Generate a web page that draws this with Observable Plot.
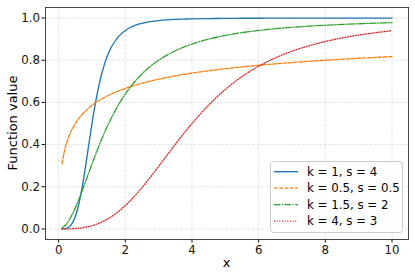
<!DOCTYPE html>
<html>
<head>
<meta charset="utf-8">
<script src="https://cdn.jsdelivr.net/npm/d3@7"></script>
<script src="https://cdn.jsdelivr.net/npm/@observablehq/plot@0.6"></script>
<style>
html,body{margin:0;padding:0;background:#fff;}
</style>
</head>
<body>
<div id="chart"></div>
<script>
const xs = [0.1,0.2,0.3,0.4,0.5,0.6,0.7,0.8,0.9,1.0,1.1,1.2,1.3,1.4,1.5,1.6,1.8,2.0,2.2,2.4,2.6,2.8,3.0,3.25,3.5,3.75,4.0,4.5,5,5.5,6,6.5,7,7.5,8,8.5,9,9.5,10];
const seriesLabels = ["k = 1, s = 4","k = 0.5, s = 0.5","k = 1.5, s = 2","k = 4, s = 3"];
const blue = [0.0001,0.0016,0.0080,0.0250,0.0588,0.1147,0.1936,0.2906,0.3962,0.5,0.5942,0.6747,0.7407,0.7935,0.8351,0.8676,0.9130,0.9412,0.9591,0.9707,0.9786,0.9840,0.9878,0.9911,0.9934,0.9950,0.9961,0.9976,0.9984,0.9989,0.9992,0.9994,0.9996,0.9997,0.9998,0.9998,0.9998,0.9999,0.9999];
const orange = [0.3090,0.3874,0.4365,0.4721,0.5,0.5227,0.5420,0.5585,0.5729,0.5858,0.5973,0.6077,0.6172,0.6259,0.6340,0.6414,0.6549,0.6667,0.6772,0.6866,0.6952,0.7030,0.7101,0.7183,0.7257,0.7325,0.7388,0.75,0.7597,0.7683,0.7760,0.7829,0.7891,0.7948,0.8,0.8048,0.8093,0.8134,0.8173];
const green = [0.0044,0.0175,0.0385,0.0664,0.1,0.1379,0.1788,0.2215,0.2647,0.3077,0.3497,0.3902,0.4289,0.4656,0.5,0.5322,0.5902,0.64,0.6827,0.7191,0.7503,0.7770,0.8,0.8244,0.8448,0.8621,0.8767,0.9,0.9174,0.9308,0.9412,0.9494,0.9561,0.9615,0.9660,0.9698,0.9730,0.9757,0.9780];
const red = [0.0000,0.0001,0.0004,0.0010,0.0019,0.0034,0.0053,0.0079,0.0113,0.0154,0.0204,0.0263,0.0332,0.0411,0.0501,0.0602,0.0835,0.1111,0.1426,0.1776,0.2155,0.2554,0.2967,0.3491,0.4012,0.4517,0.5,0.5874,0.6614,0.7222,0.7714,0.8110,0.8428,0.8683,0.8889,0.9056,0.9193,0.9305,0.9398];
const xTicks = [0,2,4,6,8,10];
const yTicks = [0.0,0.2,0.4,0.6,0.8,1.0];

const styles = [
  {color:"#1f77b4", dash:null, w:1.35},
  {color:"#ff7f0e", dash:"3.7,1.6", w:1.3},
  {color:"#2ca02c", dash:"6.4,1.6,1,1.6", w:1.3},
  {color:"#d62728", dash:"1,1.65", w:1.3}
];
const allSeries = [blue, orange, green, red];
const rows = [];
allSeries.forEach((vals, si) => vals.forEach((v, i) => rows.push({x: xs[i], y: v, s: si})));

const lineMarks = styles.map((st, si) => Plot.line(rows.filter(r => r.s === si), {
  x: "x", y: "y", stroke: st.color, strokeWidth: st.w,
  strokeDasharray: st.dash == null ? undefined : st.dash, curve: "catmull-rom"
}));

const plot = Plot.plot({
  width: 415, height: 277,
  marginLeft: 45, marginRight: 7, marginTop: 7, marginBottom: 38,
  style: {fontFamily: "DejaVu Sans", fontSize: "11.8px", background: "#fff", color: "#111"},
  x: {domain: [-0.395, 10.495], ticks: xTicks, tickFormat: d => String(d), tickSize: 3.5, tickPadding: 3, label: null},
  y: {domain: [-0.05, 1.05], ticks: yTicks, tickFormat: d3.format(".1f"), tickSize: 3.5, tickPadding: 2, label: null},
  marks: [
    Plot.gridX(xTicks, {stroke: "#b0b0b0", strokeOpacity: 0.45, strokeWidth: 0.8, strokeDasharray: "3,1.5"}),
    Plot.gridY(yTicks, {stroke: "#b0b0b0", strokeOpacity: 0.45, strokeWidth: 0.8, strokeDasharray: "3,1.5"}),
    ...lineMarks,
    Plot.frame({stroke: "#444", strokeWidth: 1})
  ]
});
document.getElementById("chart").appendChild(plot);

const svg = d3.select(plot);
// axis labels
svg.append("text").attr("x", 226.5).attr("y", 267).attr("text-anchor", "middle")
  .attr("font-size", "13px").attr("fill", "#000").text("x");
svg.append("text").attr("transform", "translate(17,123) rotate(-90)").attr("text-anchor", "middle")
  .attr("font-size", "13px").attr("fill", "#000").text("Function value");

// legend
const lg = svg.append("g").attr("text-anchor", "start");
lg.append("rect").attr("x", 270.5).attr("y", 161.5).attr("width", 132).attr("height", 71)
  .attr("rx", 3).attr("fill", "#fff").attr("fill-opacity", 0.8).attr("stroke", "#ccc").attr("stroke-width", 1);
const rowY = [171.7, 188.2, 204.7, 221.2];
styles.forEach((st, i) => {
  const l = lg.append("line").attr("x1", 274).attr("x2", 298).attr("y1", rowY[i]).attr("y2", rowY[i])
    .attr("stroke", st.color).attr("stroke-width", st.w);
  if (st.dash) l.attr("stroke-dasharray", st.dash);
  lg.append("text").attr("x", 307).attr("y", rowY[i]).attr("dy", "0.36em").attr("text-anchor", "start")
    .attr("font-size", "11.8px").attr("fill", "#000").text(seriesLabels[i]);
});
</script>
</body>
</html>
